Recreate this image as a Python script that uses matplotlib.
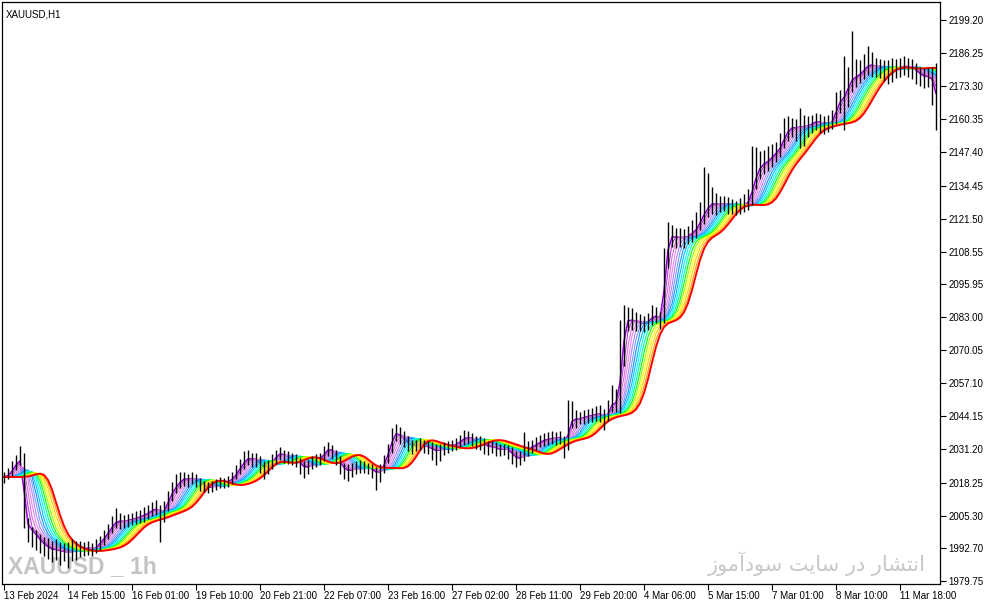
import matplotlib
matplotlib.use("Agg")
import matplotlib.pyplot as plt
import numpy as np
import pandas as pd

# XAUUSD bars (2-hour resolution)
closes = [
    2020.4, 2021.6, 2023.9, 2026.3, 2027.1, 2003.6, 2000.5, 1999.0, 1997.0, 1995.0,
    1993.8, 1992.6, 1991.9, 1992.2, 1991.1, 1991.5, 1990.7, 1991.9, 1991.1, 1992.6,
    1992.2, 1993.0, 1991.9, 1993.4, 1995.4, 1997.0, 1999.7, 2001.6, 2003.6, 2002.8,
    2003.2, 2003.6, 2004.0, 2004.4, 2005.2, 2005.6, 2006.8, 2007.5, 2008.3, 2005.6,
    2008.3, 2012.2, 2015.3, 2017.3, 2019.2, 2020.0, 2019.2, 2020.4, 2018.9, 2017.7,
    2016.5, 2016.1, 2016.9, 2017.7, 2018.5, 2018.1, 2018.9, 2020.0, 2022.4, 2024.7,
    2027.1, 2027.9, 2027.1, 2027.5, 2025.1, 2023.9, 2024.7, 2027.1, 2029.0, 2029.8,
    2028.6, 2027.9, 2027.5, 2027.1, 2025.1, 2023.9, 2024.7, 2026.7, 2027.5, 2027.9,
    2030.2, 2031.8, 2030.2, 2027.9, 2025.1, 2023.2, 2022.8, 2023.6, 2024.4, 2024.7,
    2024.4, 2023.9, 2023.2, 2021.6, 2023.2, 2027.1, 2031.0, 2036.9, 2037.7, 2036.1,
    2034.5, 2033.3, 2032.5, 2032.9, 2033.3, 2032.5, 2032.1, 2031.0, 2030.6, 2031.4,
    2032.1, 2032.5, 2032.9, 2033.3, 2034.9, 2035.6, 2036.1, 2034.9, 2034.1, 2034.1,
    2032.9, 2032.1, 2032.5, 2031.4, 2031.0, 2031.8, 2030.6, 2029.0, 2027.5, 2027.9,
    2030.2, 2031.8, 2032.5, 2033.3, 2034.5, 2034.9, 2035.3, 2035.6, 2035.6, 2036.1,
    2032.5, 2040.8, 2043.5, 2042.7, 2043.5, 2043.9, 2044.3, 2044.7, 2045.1, 2045.1,
    2043.5, 2046.6, 2050.5, 2048.6, 2066.2, 2081.1, 2081.8, 2081.8, 2081.0, 2080.6,
    2080.3, 2081.8, 2083.4, 2083.4, 2081.8, 2104.5, 2113.9, 2114.7, 2113.9, 2114.3,
    2113.9, 2115.1, 2116.3, 2117.8, 2121.7, 2124.1, 2126.8, 2127.6, 2126.8, 2127.2,
    2127.6, 2126.8, 2126.4, 2126.0, 2126.4, 2126.8, 2128.8, 2134.7, 2139.7, 2142.5,
    2143.3, 2144.4, 2146.4, 2147.6, 2150.3, 2154.2, 2156.6, 2157.3, 2156.9, 2157.7,
    2157.3, 2158.1, 2158.9, 2159.7, 2158.9, 2158.1, 2158.5, 2160.1, 2166.0, 2167.9,
    2169.9, 2174.6, 2176.5, 2177.3, 2178.5, 2180.4, 2182.0, 2181.2, 2180.8, 2180.4,
    2180.0, 2179.6, 2180.0, 2180.4, 2180.8, 2181.2, 2180.8, 2180.4, 2178.9, 2177.7,
    2176.9, 2177.3, 2174.9, 2166.0,
]
highs = [
    2022.5, 2024.0, 2026.5, 2029.0, 2032.5, 2030.0, 2004.5, 2001.0, 1999.5, 1998.0,
    1997.0, 1996.5, 1995.5, 1996.0, 1995.0, 1994.5, 1995.0, 1996.0, 1995.5, 1995.5,
    1995.0, 1995.5, 1994.5, 1996.0, 1997.5, 1999.5, 2002.0, 2005.0, 2008.3, 2006.5,
    2005.5, 2006.0, 2006.5, 2007.0, 2007.5, 2008.5, 2009.5, 2010.5, 2011.5, 2009.5,
    2011.0, 2015.0, 2018.5, 2021.5, 2022.5, 2022.5, 2021.5, 2022.5, 2021.5, 2020.0,
    2019.0, 2018.5, 2019.0, 2019.5, 2020.5, 2020.0, 2021.0, 2022.5, 2025.0, 2027.5,
    2030.5, 2031.0, 2030.0, 2030.0, 2028.5, 2026.5, 2027.0, 2029.5, 2031.0, 2032.3,
    2031.0, 2030.5, 2030.0, 2029.5, 2028.0, 2026.5, 2027.0, 2028.5, 2029.5, 2030.0,
    2032.5, 2034.1, 2033.0, 2031.0, 2028.5, 2026.0, 2025.5, 2026.0, 2026.5, 2027.0,
    2026.5, 2026.0, 2025.5, 2024.5, 2025.5, 2029.0, 2033.5, 2039.5, 2041.2, 2040.0,
    2038.5, 2036.5, 2035.0, 2035.0, 2035.5, 2035.0, 2034.5, 2034.0, 2033.5, 2033.5,
    2034.0, 2034.5, 2035.0, 2035.5, 2037.0, 2038.8, 2038.5, 2037.5, 2036.5, 2036.5,
    2035.5, 2034.5, 2034.5, 2034.0, 2033.5, 2033.5, 2033.0, 2032.0, 2030.5, 2030.5,
    2038.0, 2034.5, 2035.0, 2036.0, 2037.0, 2037.5, 2038.0, 2038.5, 2038.0, 2038.5,
    2036.5, 2050.5, 2050.0, 2046.5, 2046.0, 2046.5, 2047.0, 2047.5, 2048.0, 2048.5,
    2047.0, 2050.5, 2056.4, 2055.0, 2081.8, 2087.7, 2087.0, 2086.5, 2085.0, 2084.0,
    2083.5, 2084.5, 2087.7, 2087.0, 2085.0, 2110.0, 2120.2, 2119.0, 2118.0, 2118.0,
    2117.5, 2118.5, 2121.0, 2124.0, 2128.0, 2141.7, 2139.3, 2134.0, 2131.5, 2130.5,
    2130.5, 2130.0, 2129.0, 2128.5, 2129.5, 2131.0, 2133.0, 2150.0, 2149.5, 2148.0,
    2148.5, 2150.0, 2150.5, 2151.5, 2155.0, 2161.0, 2161.5, 2161.0, 2160.5, 2164.8,
    2162.0, 2161.5, 2162.0, 2163.0, 2162.5, 2161.5, 2162.0, 2164.0, 2171.0, 2172.0,
    2185.0, 2181.0, 2194.9, 2184.0, 2183.5, 2186.0, 2189.0, 2186.5, 2184.5, 2184.0,
    2183.5, 2183.5, 2184.5, 2184.0, 2184.5, 2185.0, 2184.5, 2184.0, 2182.5, 2181.0,
    2180.5, 2180.5, 2181.0, 2182.4,
]
lows = [
    2018.0, 2019.5, 2021.0, 2023.0, 2025.0, 2000.5, 1995.0, 1993.0, 1992.0, 1990.5,
    1989.5, 1988.5, 1987.0, 1988.0, 1986.0, 1987.5, 1985.0, 1987.5, 1988.0, 1989.0,
    1989.5, 1990.0, 1989.5, 1990.5, 1992.0, 1994.0, 1996.0, 1998.5, 2000.5, 2000.0,
    2000.5, 2001.0, 2001.5, 2002.0, 2002.5, 2003.0, 2004.0, 2005.0, 2005.5, 1995.0,
    2003.0, 2007.0, 2011.0, 2014.0, 2016.0, 2017.0, 2016.5, 2017.5, 2016.5, 2015.0,
    2014.5, 2014.0, 2014.5, 2015.5, 2016.0, 2016.0, 2016.5, 2017.5, 2019.5, 2021.5,
    2023.5, 2025.0, 2024.5, 2024.5, 2022.0, 2019.5, 2021.5, 2023.5, 2025.5, 2027.0,
    2026.0, 2025.5, 2025.0, 2024.5, 2021.5, 2020.0, 2021.5, 2023.5, 2024.5, 2025.0,
    2026.5, 2028.5, 2027.5, 2025.0, 2021.5, 2019.5, 2019.0, 2020.5, 2021.5, 2022.0,
    2022.0, 2021.5, 2020.0, 2015.3, 2018.5, 2022.0, 2026.0, 2030.0, 2034.5, 2033.5,
    2032.0, 2030.5, 2029.5, 2030.5, 2031.0, 2030.0, 2029.5, 2027.0, 2025.1, 2026.5,
    2029.0, 2030.0, 2030.5, 2031.0, 2032.0, 2033.0, 2033.5, 2032.5, 2031.5, 2031.0,
    2029.5, 2029.0, 2030.0, 2028.5, 2028.5, 2029.0, 2027.5, 2025.5, 2024.4, 2025.0,
    2026.5, 2028.5, 2030.0, 2031.0, 2032.0, 2032.5, 2033.0, 2033.5, 2033.0, 2033.5,
    2027.9, 2031.0, 2039.5, 2039.5, 2041.0, 2041.0, 2041.5, 2042.0, 2042.5, 2042.0,
    2038.8, 2042.5, 2046.0, 2046.0, 2045.5, 2064.0, 2077.5, 2078.0, 2077.5, 2077.5,
    2077.0, 2078.0, 2080.0, 2080.5, 2078.5, 2080.5, 2102.0, 2110.5, 2110.0, 2110.5,
    2110.0, 2111.5, 2112.5, 2114.0, 2117.0, 2119.5, 2122.0, 2123.5, 2123.0, 2124.0,
    2124.5, 2123.5, 2123.5, 2123.0, 2123.5, 2124.0, 2125.0, 2127.0, 2133.0, 2137.0,
    2139.0, 2140.0, 2141.5, 2143.5, 2145.5, 2149.0, 2152.0, 2153.5, 2152.0, 2149.0,
    2150.0, 2153.5, 2155.0, 2156.0, 2155.0, 2154.5, 2155.5, 2156.5, 2158.5, 2163.0,
    2156.2, 2165.0, 2171.0, 2173.0, 2174.5, 2176.0, 2177.5, 2177.0, 2177.0, 2176.5,
    2175.5, 2174.0, 2175.0, 2176.5, 2177.0, 2177.5, 2177.0, 2176.0, 2174.0, 2173.5,
    2172.5, 2173.0, 2166.0, 2156.2,
]

price_ticks = [2199.20, 2186.25, 2173.30, 2160.35, 2147.40, 2134.45, 2121.50, 2108.55,
               2095.95, 2083.00, 2070.05, 2057.10, 2044.15, 2031.20, 2018.25, 2005.30,
               1992.70, 1979.75]
time_labels = ["13 Feb 2024", "14 Feb 15:00", "16 Feb 01:00", "19 Feb 10:00", "20 Feb 21:00",
               "22 Feb 07:00", "23 Feb 16:00", "27 Feb 02:00", "28 Feb 11:00", "29 Feb 20:00",
               "4 Mar 06:00", "5 Mar 15:00", "7 Mar 01:00", "8 Mar 10:00", "11 Mar 18:00"]
label_step = 16

# rainbow MA: each line is a 2-bar SMA of the previous one, fastest first
ma_colors = ["#9400D3", "#B040E0", "#DA70D6", "#EE82EE", "#B088F8", "#7B9CFF", "#1E90FF",
             "#00BFFF", "#00FFFF", "#00FFB0", "#00FF00", "#9AFF00", "#FFFF00", "#FFD000",
             "#FF9900", "#FF0000"]

plt.rcParams["font.family"] = ["Liberation Sans", "DejaVu Sans"]

n = len(closes)
idx = np.arange(n)

fig = plt.figure(figsize=(9.87, 6.05), dpi=100)
ax = fig.add_axes([2 / 987, 21 / 605, 938 / 987, 582 / 605])

line = pd.Series(closes)
for i, c in enumerate(ma_colors):
    line = line.rolling(2, min_periods=1).mean()
    lw = 1.4 if i == len(ma_colors) - 1 else (1.1 if i == 0 else 0.8)
    ax.plot(idx, line, color=c, lw=lw, zorder=2)

ax.vlines(idx, lows, highs, color="black", lw=1.0, zorder=3)

ax.set_xlim(-0.5, 234.0)
ax.set_ylim(1978.56, 2206.24)

ax.yaxis.tick_right()
ax.set_yticks(price_ticks)
ax.set_yticklabels([f"{v:.2f}" for v in price_ticks])
ax.tick_params(axis="y", direction="out", length=4, width=0.8, pad=2, labelsize=7, colors="black")

ax.set_xticks(idx[::label_step][:len(time_labels)])
ax.set_xticklabels(time_labels, ha="left")
ax.tick_params(axis="x", direction="out", length=4, width=0.8, pad=1, labelsize=7)

for s in ax.spines.values():
    s.set_linewidth(0.9)
    s.set_color("black")

ax.text(0.0043, 0.987, "XAUUSD,H1", transform=ax.transAxes, fontsize=7, va="top", ha="left")

ax.text(0.0064, 0.011, "XAUUSD _ 1h", transform=ax.transAxes, fontsize=16.5, fontweight="bold",
        color="#c4c4c4", va="bottom", ha="left", zorder=1)

# "انتشار در سایت سودآموز" written in presentation forms, visual order
fa_text = ("\ufeaf\ufeee\ufee3\ufe81\ufea9\ufeee\ufeb3 \ufe96\ufef3\ufe8e\ufeb3 "
           "\ufead\ufea9 \ufead\ufe8e\ufeb8\ufe98\ufee7\ufe8d")
ax.text(0.985, 0.035, fa_text, transform=ax.transAxes, fontsize=15, color="#c8c8c8",
        family=["DejaVu Sans"], va="center", ha="right", zorder=1)

fig.savefig("out.png", dpi=100)
